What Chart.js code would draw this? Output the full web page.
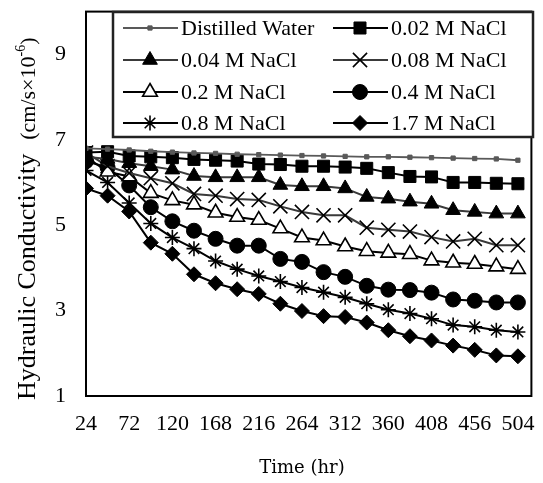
<!DOCTYPE html>
<html>
<head>
<meta charset="utf-8">
<script src="https://cdn.jsdelivr.net/npm/chart.js@4.4.1/dist/chart.umd.min.js"></script>
<style>
  html, body { margin: 0; padding: 0; background: #fff; }
  canvas { display: block; }
</style>
</head>
<body>
<canvas id="chart" width="543" height="483"></canvas>
<script>
// time points (hr)
const hours = [24, 48, 72, 96, 120, 144, 168, 192, 216, 240, 264, 288, 312, 336, 360, 384, 408, 432, 456, 480, 504];
const xTicks = [24, 72, 120, 168, 216, 264, 312, 360, 408, 456, 504];
const yTicks = [1, 3, 5, 7, 9];

const labels = ['Distilled Water', '0.02 M NaCl', '0.04 M NaCl', '0.08 M NaCl', '0.2 M NaCl', '0.4 M NaCl', '0.8 M NaCl', '1.7 M NaCl'];

// hydraulic conductivity, cm/s x 1e-6
const distilled = [6.80, 6.78, 6.76, 6.73, 6.71, 6.69, 6.68, 6.66, 6.65, 6.64, 6.63, 6.62, 6.61, 6.60, 6.60, 6.59, 6.58, 6.57, 6.56, 6.55, 6.52];
const nacl002  = [6.70, 6.72, 6.62, 6.60, 6.58, 6.54, 6.52, 6.50, 6.43, 6.42, 6.38, 6.38, 6.36, 6.33, 6.23, 6.14, 6.13, 6.00, 6.00, 5.98, 5.97];
const nacl004  = [6.60, 6.55, 6.45, 6.38, 6.30, 6.15, 6.12, 6.12, 6.12, 5.94, 5.91, 5.91, 5.86, 5.66, 5.62, 5.55, 5.50, 5.35, 5.31, 5.27, 5.27];
const nacl008  = [6.70, 6.38, 6.22, 6.10, 5.98, 5.73, 5.69, 5.61, 5.59, 5.44, 5.31, 5.23, 5.23, 4.94, 4.89, 4.85, 4.72, 4.62, 4.68, 4.53, 4.53];
const nacl02   = [6.60, 6.25, 6.14, 5.75, 5.58, 5.48, 5.29, 5.19, 5.12, 4.92, 4.71, 4.64, 4.50, 4.39, 4.35, 4.32, 4.17, 4.12, 4.09, 4.03, 3.97];
const nacl04   = [6.50, 6.35, 5.93, 5.42, 5.09, 4.87, 4.68, 4.52, 4.52, 4.21, 4.14, 3.90, 3.79, 3.58, 3.49, 3.48, 3.42, 3.26, 3.23, 3.19, 3.19];
const nacl08   = [6.28, 6.00, 5.52, 5.04, 4.71, 4.45, 4.16, 3.97, 3.81, 3.68, 3.54, 3.43, 3.31, 3.16, 3.02, 2.93, 2.81, 2.66, 2.62, 2.54, 2.50];
const nacl17   = [5.86, 5.69, 5.32, 4.59, 4.33, 3.85, 3.64, 3.50, 3.39, 3.16, 2.99, 2.87, 2.85, 2.72, 2.54, 2.40, 2.30, 2.18, 2.08, 1.95, 1.93];

const SERIF = '"Liberation Serif", "Times New Roman", serif';

function series(i, values, style, radius, extra) {
  return Object.assign({
    label: labels[i],
    data: values.map((v, k) => ({ x: hours[k], y: v })),
    borderColor: '#000',
    borderWidth: 2,
    pointStyle: style,
    pointRadius: radius,
    pointHoverRadius: radius,
    pointBackgroundColor: '#000',
    pointBorderColor: '#000',
    pointBorderWidth: 1,
    tension: 0,
    fill: false
  }, extra || {});
}

const datasets = [
  series(0, distilled, 'rect', 3, { borderColor: '#595959', pointBackgroundColor: '#595959', pointBorderColor: '#595959', borderWidth: 1.8 }),
  series(1, nacl002, 'rect', 8.5),
  series(2, nacl004, 'triangle', 8.5, { borderColor: '#3a3a3a' }),
  series(3, nacl008, 'crossRot', 10, { borderColor: '#3a3a3a', pointBorderWidth: 1.6 }),
  series(4, nacl02, 'triangle', 8.5, { pointBackgroundColor: '#fff', pointBorderWidth: 1.6 }),
  series(5, nacl04, 'circle', 7.5),
  series(6, nacl08, 'star', 7.5, { pointBorderWidth: 1.6 }),
  series(7, nacl17, 'rectRot', 7.5)
];

// box round the plot, legend inside it, axis titles
const decor = {
  id: 'decor',
  afterDraw(chart) {
    const ctx = chart.ctx;
    const ca = chart.chartArea;
    ctx.save();
    ctx.strokeStyle = '#000';
    ctx.lineWidth = 2;
    ctx.strokeRect(ca.left, ca.top, ca.right - ca.left, ca.bottom - ca.top);

    // legend
    const bx = 113, by = 12, bw = 420, bh = 125;
    ctx.fillStyle = '#fff';
    ctx.fillRect(bx, by, bw, bh);
    ctx.strokeStyle = '#222';
    ctx.lineWidth = 2.5;
    ctx.strokeRect(bx, by, bw, bh);
    const colX = [123, 333], rowY = [28, 60, 92, 123];
    ctx.font = '22px ' + SERIF;
    ctx.textBaseline = 'middle';
    ctx.textAlign = 'left';
    chart.data.datasets.forEach((d, i) => {
      const x0 = colX[i % 2], y = rowY[Math.floor(i / 2)];
      ctx.strokeStyle = d.borderColor;
      ctx.lineWidth = d.borderWidth;
      ctx.beginPath();
      ctx.moveTo(x0, y);
      ctx.lineTo(x0 + 55, y);
      ctx.stroke();
      ctx.fillStyle = d.pointBackgroundColor;
      ctx.strokeStyle = d.pointBorderColor;
      ctx.lineWidth = d.pointBorderWidth;
      Chart.helpers.drawPoint(ctx, { pointStyle: d.pointStyle, radius: d.pointRadius, borderWidth: d.pointBorderWidth, rotation: 0 }, x0 + 27, y);
      ctx.fillStyle = '#000';
      ctx.fillText(d.label, x0 + 58, y + 1);
    });

    // y title
    ctx.fillStyle = '#000';
    ctx.translate(35, 400);
    ctx.rotate(-Math.PI / 2);
    ctx.textBaseline = 'alphabetic';
    ctx.font = '26px ' + SERIF;
    ctx.fillText('Hydraulic Conductivity', 0, 0);
    let x = ctx.measureText('Hydraulic Conductivity').width + 14;
    ctx.font = '22px ' + SERIF;
    ctx.fillText('(cm/s×10', x, 0);
    x += ctx.measureText('(cm/s×10').width;
    ctx.font = '14px ' + SERIF;
    ctx.fillText('-6', x, -10);
    x += ctx.measureText('-6').width;
    ctx.font = '22px ' + SERIF;
    ctx.fillText(')', x, 0);
    ctx.restore();

    // x title
    ctx.save();
    ctx.fillStyle = '#000';
    ctx.font = '18px "DejaVu Serif", serif';
    ctx.textAlign = 'center';
    ctx.textBaseline = 'middle';
    ctx.fillText('Time (hr)', 302, 468);
    ctx.restore();
  }
};

new Chart(document.getElementById('chart'), {
  type: 'line',
  data: { datasets },
  options: {
    responsive: false,
    animation: false,
    layout: { padding: { left: 0, top: 7, right: 7, bottom: 0 } },
    plugins: { legend: { display: false }, tooltip: { enabled: false } },
    scales: {
      x: {
        type: 'linear', min: 24, max: 519,
        grid: { display: false, drawTicks: false },
        border: { display: false },
        afterBuildTicks: s => { s.ticks = xTicks.map(v => ({ value: v })); },
        afterFit: s => { s.height = 87; s.paddingLeft = 0; s.paddingRight = 0; },
        ticks: { color: '#000', font: { family: SERIF, size: 22 }, padding: 15, maxRotation: 0, autoSkip: false }
      },
      y: {
        min: 1, max: 10,
        grid: { display: false, drawTicks: false },
        border: { display: false },
        afterBuildTicks: s => { s.ticks = yTicks.map(v => ({ value: v })); },
        afterFit: s => { s.width = 86; s.paddingTop = 0; s.paddingBottom = 0; },
        ticks: { color: '#000', font: { family: SERIF, size: 22 }, padding: 20 }
      }
    }
  },
  plugins: [decor]
});
</script>
</body>
</html>
